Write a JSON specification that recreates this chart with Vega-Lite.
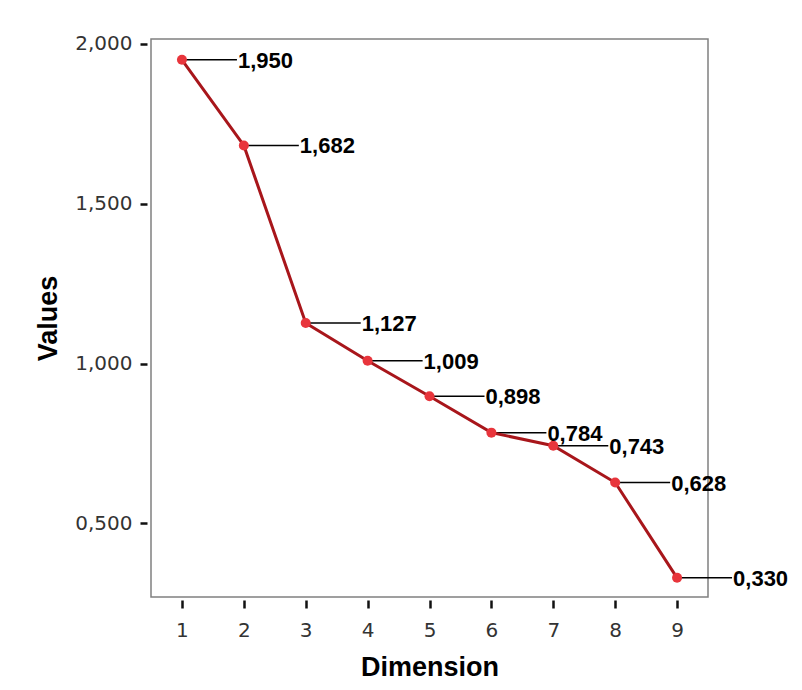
{
  "$schema": "https://vega.github.io/schema/vega-lite/v6.json",
  "width": 557,
  "height": 558,
  "autosize": {"type": "none"},
  "padding": {"left": 151, "top": 39, "right": 94, "bottom": 93},
  "background": "white",
  "config": {
    "view": {"stroke": "#808080", "strokeWidth": 1.5},
    "axis": {
      "domain": false,
      "grid": false,
      "tickColor": "#111",
      "tickWidth": 2.5,
      "labelFont": "DejaVu Sans",
      "labelFontSize": 20,
      "labelColor": "#333",
      "titleFont": "Liberation Sans",
      "titleFontWeight": "bold",
      "titleFontSize": 27,
      "titleColor": "#000"
    }
  },
  "data": {
    "values": [
      {"dim": 1, "value": 1.950, "label": "1,950"},
      {"dim": 2, "value": 1.682, "label": "1,682"},
      {"dim": 3, "value": 1.127, "label": "1,127"},
      {"dim": 4, "value": 1.009, "label": "1,009"},
      {"dim": 5, "value": 0.898, "label": "0,898"},
      {"dim": 6, "value": 0.784, "label": "0,784"},
      {"dim": 7, "value": 0.743, "label": "0,743"},
      {"dim": 8, "value": 0.628, "label": "0,628"},
      {"dim": 9, "value": 0.330, "label": "0,330"}
    ]
  },
  "encoding": {
    "x": {
      "field": "dim",
      "type": "quantitative",
      "title": "Dimension",
      "scale": {"domain": [0.5, 9.5], "nice": false, "zero": false},
      "axis": {"values": [1,2,3,4,5,6,7,8,9], "format": "d", "offset": 3, "tickSize": 8, "labelPadding": 12, "titlePadding": 14}
    },
    "y": {
      "field": "value",
      "type": "quantitative",
      "title": "Values",
      "scale": {"domain": [0.27, 2.015], "nice": false, "zero": false},
      "axis": {"values": [0.5, 1, 1.5, 2], "labelExpr": "replace(format(datum.value, '.3f'), '.', ',')", "offset": 4, "tickSize": 7, "labelPadding": 8, "titlePadding": 12}
    }
  },
  "layer": [
    {
      "mark": {"type": "rule", "x2Offset": 55, "color": "#000", "strokeWidth": 1.5},
      "encoding": {"x2": {"field": "dim"}}
    },
    {
      "mark": {"type": "line", "color": "#a8161b", "strokeWidth": 3}
    },
    {
      "mark": {"type": "circle", "size": 100, "color": "#e8353c", "opacity": 1}
    },
    {
      "mark": {"type": "text", "align": "left", "baseline": "middle", "dx": 56, "dy": 1, "font": "Liberation Sans", "fontWeight": "bold", "fontSize": 22, "color": "#000"},
      "encoding": {"text": {"field": "label"}}
    }
  ]
}
